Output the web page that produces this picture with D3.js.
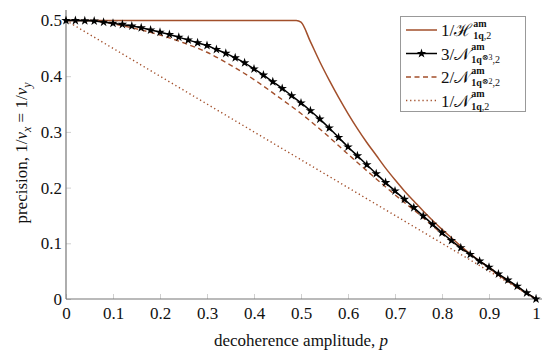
<!DOCTYPE html>
<html>
<head>
<meta charset="utf-8">
<script src="https://cdn.jsdelivr.net/npm/d3@7"></script>
<style>
  body { margin: 0; background: #fff; }
  svg text { font-family: "Liberation Serif", "DejaVu Serif", serif; fill: #111; }
</style>
</head>
<body>
<div id="wrapper"></div>
<script>
// values
const xTicks = [0, 0.1, 0.2, 0.3, 0.4, 0.5, 0.6, 0.7, 0.8, 0.9, 1]
const yTicks = [0, 0.1, 0.2, 0.3, 0.4, 0.5]

// 3/N (stars), every 0.02
const starP = [0, .02, .04, .06, .08, .10, .12, .14, .16, .18, .20, .22, .24, .26, .28, .30,
  .32, .34, .36, .38, .40, .42, .44, .46, .48, .50, .52, .54, .56, .58, .60, .62, .64, .66,
  .68, .70, .72, .74, .76, .78, .80, .82, .84, .86, .88, .90, .92, .94, .96, .98, 1]
const starV = [.5, .4998, .4995, .499, .497, .495, .493, .490, .487, .483, .479, .475, .470,
  .465, .460, .455, .448, .441, .433, .424, .413, .402, .390, .378, .365, .352, .338, .323,
  .307, .290, .273, .257, .241, .225, .209, .194, .179, .164, .149, .134, .119, .105, .092,
  .080, .068, .057, .045, .034, .023, .011, 0]

// 2/N (dashed)
const dashP = [0, .05, .10, .15, .20, .25, .30, .35, .40, .45, .50, .55, .60, .65, .70, .75,
  .80, .85, .90, .95, 1]
const dashV = [.5, .4995, .494, .485, .474, .460, .443, .420, .394, .364, .333, .298, .260,
  .223, .187, .153, .117, .085, .057, .028, 0]

// 1/N (dotted)
const dotP = [0, .1, .2, .3, .4, .5, .6, .7, .8, .9, 1]
const dotV = [.5, .45, .40, .35, .30, .25, .20, .15, .10, .05, 0]

// 1/H (solid)
const hP = [0, .10, .20, .30, .40, .49, .50, .52, .54, .56, .58, .60, .62, .64, .66, .68, .70,
  .72, .74, .76, .78, .80, .82, .84, .86, .88, .90, .92, .94, .96, .98, 1]
const hV = [.5, .5, .5, .5, .5, .5, .497, .462, .426, .393, .362, .333, .306, .281, .258,
  .235, .214, .194, .176, .158, .141, .125, .110, .095, .081, .068, .056, .043, .032, .021,
  .010, 0]

const brown = "#a24f2b"
const serif = '"Liberation Serif", "DejaVu Serif", serif'

const width = 550
const height = 352

const svg = d3.select("#wrapper")
  .append("svg")
  .attr("width", width)
  .attr("height", height)

const x = d3.scaleLinear().domain([0, 1]).range([66, 536])
const y = d3.scaleLinear().domain([0, 0.5]).range([299, 20.5])

// ticks (inner, light gray)
const xAxis = svg.append("g")
  .attr("transform", "translate(0,299)")
  .call(d3.axisBottom(x).tickValues(xTicks).tickSize(-5)
    .tickFormat(d => d === 0 || d === 1 ? d : d.toFixed(1)))
xAxis.attr("font-family", serif)
xAxis.select(".domain").remove()
xAxis.selectAll("line").attr("stroke", "#cfcfcf")
xAxis.selectAll("text").attr("font-size", 17).attr("y", 8).attr("dy", "0.71em")

const yAxis = svg.append("g")
  .attr("transform", "translate(66,0)")
  .call(d3.axisLeft(y).tickValues(yTicks).tickSize(-5)
    .tickFormat(d => d === 0 ? d : d.toFixed(1)))
yAxis.attr("font-family", serif)
yAxis.select(".domain").remove()
yAxis.selectAll("line").attr("stroke", "#cfcfcf")
yAxis.selectAll("text").attr("font-size", 17).attr("x", -4)

// axis lines
svg.append("line").attr("x1", 66).attr("x2", 542).attr("y1", 299).attr("y2", 299)
  .attr("stroke", "#777").attr("stroke-width", 1.2)
svg.append("line").attr("x1", 66).attr("x2", 66).attr("y1", 299).attr("y2", 10)
  .attr("stroke", "#777").attr("stroke-width", 1.2)

const line = d3.line()
  .x(d => x(d[0]))
  .y(d => y(d[1]))

const zip = (a, b) => a.map((p, i) => [p, b[i]])

const plot = svg.append("g")

plot.append("path")
  .attr("d", line(zip(dotP, dotV)))
  .attr("fill", "none").attr("stroke", brown).attr("stroke-width", 1.4)
  .attr("stroke-dasharray", "1.3 2.8")

plot.append("path")
  .attr("d", line.curve(d3.curveMonotoneX)(zip(dashP, dashV)))
  .attr("fill", "none").attr("stroke", brown).attr("stroke-width", 1.4)
  .attr("stroke-dasharray", "5 3.5")

plot.append("path")
  .attr("d", line.curve(d3.curveMonotoneX)(zip(hP, hV)))
  .attr("fill", "none").attr("stroke", brown).attr("stroke-width", 1.5)

plot.append("path")
  .attr("d", line.curve(d3.curveMonotoneX)(zip(starP, starV)))
  .attr("fill", "none").attr("stroke", "#000").attr("stroke-width", 1.5)

const star = d3.symbol().type(d3.symbolStar).size(28)
plot.selectAll(".star")
  .data(zip(starP, starV))
  .join("path")
  .attr("class", "star")
  .attr("transform", d => `translate(${x(d[0])},${y(d[1])})`)
  .attr("d", star)
  .attr("fill", "#000")

// axis titles
svg.append("text")
  .attr("x", 301).attr("y", 346)
  .attr("text-anchor", "middle").attr("font-size", 17)
  .html('decoherence amplitude, <tspan font-style="italic">p</tspan>')

svg.append("text")
  .attr("transform", "translate(27,153) rotate(-90)")
  .attr("text-anchor", "middle").attr("font-size", 17)
  .html('precision, 1/<tspan font-style="italic">v</tspan><tspan font-size="12" dy="4" font-style="italic">x</tspan><tspan dy="-4"> = 1/</tspan><tspan font-style="italic">v</tspan><tspan font-size="12" dy="4" font-style="italic">y</tspan>')

// legend
const legend = svg.append("g")
legend.append("rect")
  .attr("x", 400.5).attr("y", 16.5).attr("width", 125).attr("height", 95)
  .attr("fill", "#fff").attr("stroke", "#999")

const entries = [
  { dash: null, marker: false, color: brown, num: "1/", sym: "ℋ", sub: ["1q", null, ",2"] },
  { dash: null, marker: true, color: "#000", num: "3/", sym: "𝒩", sub: ["1q", "⊗3", ",2"] },
  { dash: "5 3.5", marker: false, color: brown, num: "2/", sym: "𝒩", sub: ["1q", "⊗2", ",2"] },
  { dash: "1.3 2.8", marker: false, color: brown, num: "1/", sym: "𝒩", sub: ["1q", null, ",2"] },
]

entries.forEach((e, i) => {
  const cy = 30 + i * 23.5
  legend.append("line")
    .attr("x1", 406).attr("x2", 437).attr("y1", cy).attr("y2", cy)
    .attr("stroke", e.color).attr("stroke-width", 1.5)
    .attr("stroke-dasharray", e.dash)
  if (e.marker) {
    legend.append("path").attr("transform", `translate(421.5,${cy})`)
      .attr("d", star).attr("fill", "#000")
  }
  const t = legend.append("text").attr("x", 441).attr("y", cy + 6).attr("font-size", 17)
  t.append("tspan").text(e.num)
  t.append("tspan").text(e.sym)
  const sx = 441 + t.node().getComputedTextLength() + 1
  legend.append("text").attr("x", sx).attr("y", cy - 3.5).attr("font-size", 10)
    .attr("font-weight", "bold").text("am")
  const sub = legend.append("text").attr("x", sx).attr("y", cy + 9).attr("font-size", 10)
  sub.append("tspan").text(e.sub[0]).attr("font-weight", "bold")
  if (e.sub[1]) sub.append("tspan").text(e.sub[1]).attr("font-size", 8).attr("dy", -2.5)
  sub.append("tspan").text(e.sub[2]).attr("dy", e.sub[1] ? 2.5 : 0)
})
</script>
</body>
</html>
